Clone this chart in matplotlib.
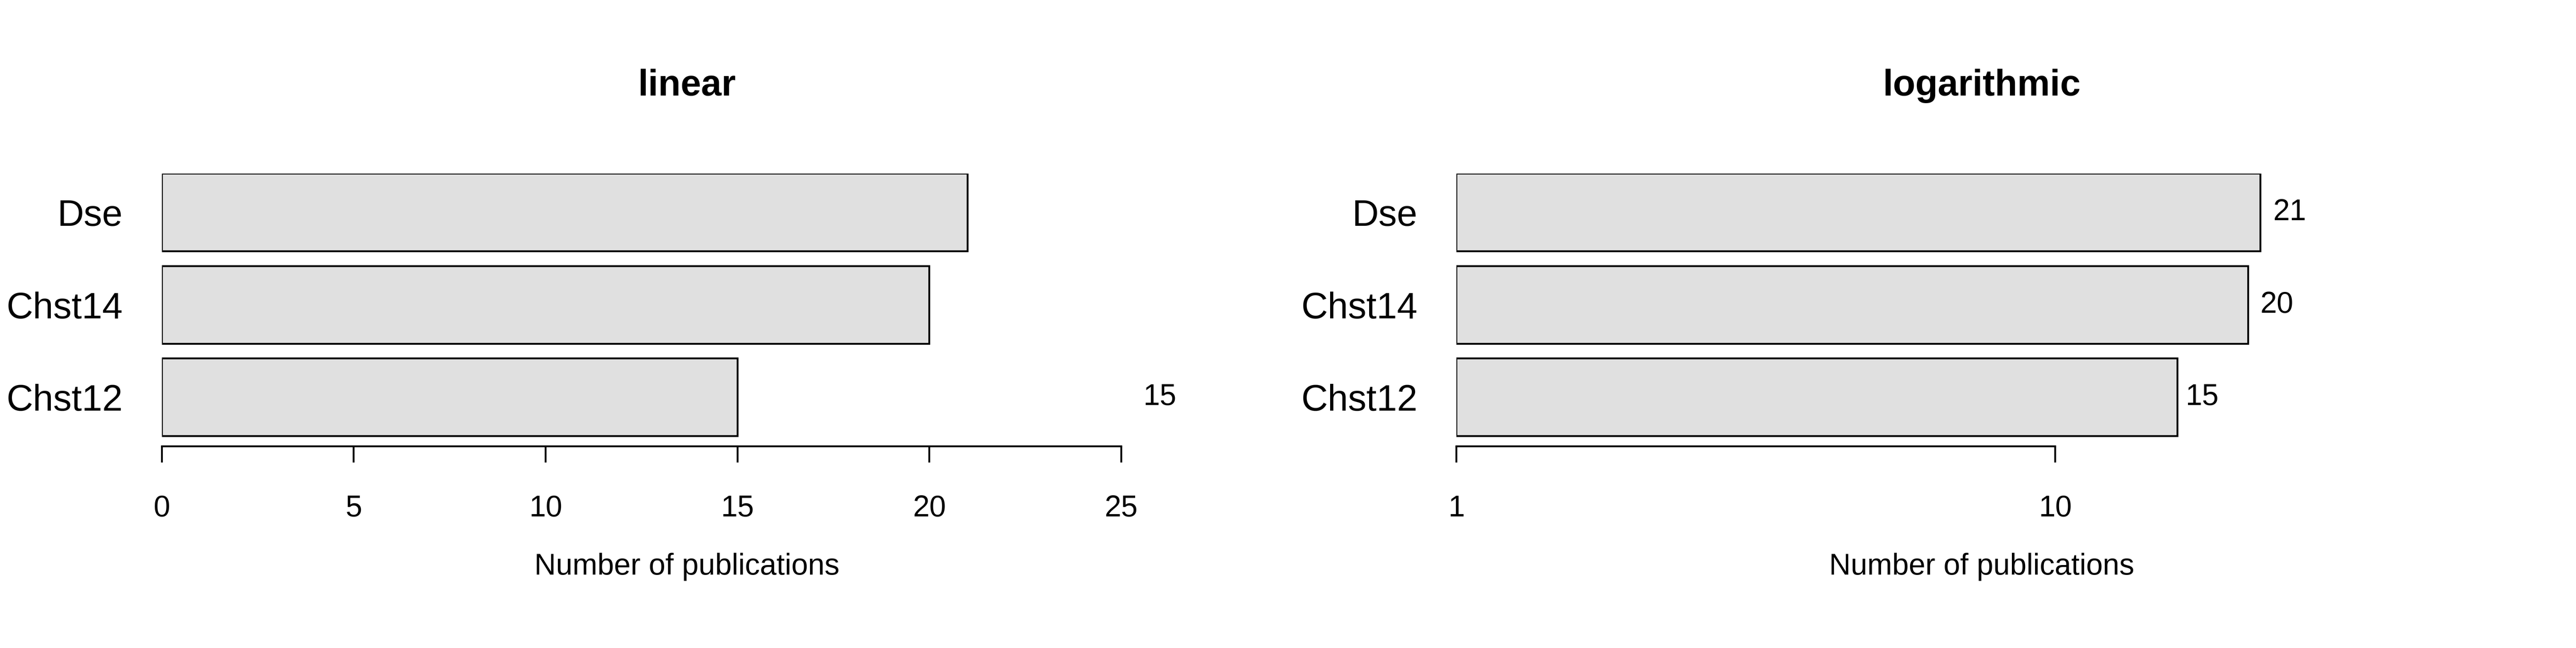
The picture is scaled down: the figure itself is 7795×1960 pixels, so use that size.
import matplotlib.pyplot as plt
import numpy as np

plt.rcParams["font.family"] = ["Liberation Sans", "DejaVu Sans"]

genes = ["Chst12", "Chst14", "Dse"]
counts = [15, 20, 21]
linear_ticks = [0, 5, 10, 15, 20, 25]
log_ticks = [1, 10]

W, H = 15.59, 3.92
fig = plt.figure(figsize=(W, H), dpi=500)
fig.patch.set_facecolor("white")

BAR_FC = "#e0e0e0"
pos = np.arange(len(genes))


def style(ax, title, center_px, left_px, width_px):
    # R centres title and label over the whole plot region, not the axes box
    cx = (center_px - left_px) / width_px
    for s in ["top", "right", "left"]:
        ax.spines[s].set_visible(False)
    ax.set_ylim(-0.53, 2.42)
    ax.set_yticks(pos)
    ax.set_yticklabels(genes, fontsize=16)
    ax.tick_params(axis="y", length=0, pad=17)
    ax.tick_params(axis="x", labelsize=13, length=7, pad=14, width=0.8)
    ax.spines["bottom"].set_linewidth(0.8)
    ax.set_xlabel("Number of publications", fontsize=13, labelpad=26)
    ax.xaxis.set_label_coords(cx, -0.39)
    ax.set_title(title, fontsize=16, fontweight="bold", pad=34, x=cx)


# linear panel
L1, W1 = 98, 581
ax1 = fig.add_axes([L1 / 1560, 122 / 392, W1 / 1560, 165 / 392])
ax1.barh(pos, counts, height=0.84, color=BAR_FC, edgecolor="black", linewidth=0.8)
ax1.set_xlim(0, 25)
ax1.set_xticks(linear_ticks)
ax1.spines["bottom"].set_bounds(0, 25)
style(ax1, "linear", 416, L1, W1)
ax1.text(26, pos[0], str(counts[0]), fontsize=13, ha="center", va="center", clip_on=False)

# logarithmic panel
L2, W2 = 882, 544
ax2 = fig.add_axes([L2 / 1560, 122 / 392, W2 / 1560, 165 / 392])
ax2.barh(pos, counts, left=1, height=0.84, color=BAR_FC, edgecolor="black", linewidth=0.8)
ax2.set_xscale("log")
ax2.set_xlim(1, 10 ** 1.5)
ax2.set_xticks(log_ticks)
ax2.set_xticklabels([str(t) for t in log_ticks])
ax2.minorticks_off()
ax2.spines["bottom"].set_bounds(1, 10)
style(ax2, "logarithmic", 1200, L2, W2)
for p, c in zip(pos, counts):
    ax2.text(c * 1.10, p, str(c), fontsize=13, ha="left", va="center")

fig.savefig("out.png", dpi=500)
